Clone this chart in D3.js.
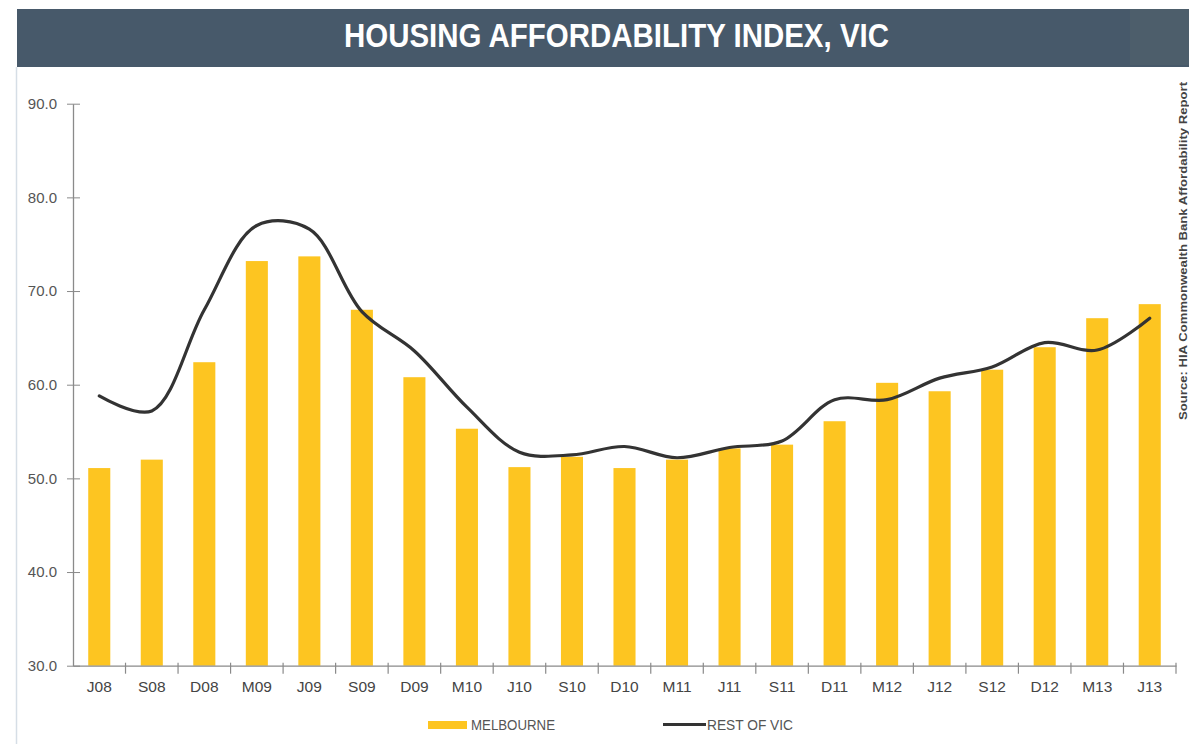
<!DOCTYPE html>
<html>
<head>
<meta charset="utf-8">
<script src="https://cdn.jsdelivr.net/npm/d3@7/dist/d3.min.js"></script>
<style>
  body { margin: 0; background: #fff; }
  svg { display: block; font-family: "Liberation Sans", Arial, sans-serif; }
</style>
</head>
<body>
<svg id="chart"></svg>
<script>
const width = 1189;
const height = 744;

// quarters
const quarters = ['J08', 'S08', 'D08', 'M09', 'J09', 'S09', 'D09', 'M10', 'J10', 'S10', 'D10',
                  'M11', 'J11', 'S11', 'D11', 'M12', 'J12', 'S12', 'D12', 'M13', 'J13'];
const melbourne = [51.1, 52.0, 62.4, 73.2, 73.7, 68.0, 60.8, 55.3, 51.2, 52.3, 51.1,
                   52.0, 53.2, 53.6, 56.1, 60.2, 59.3, 61.6, 64.0, 67.1, 68.6];
const restOfVic = [58.8, 57.2, 68.0, 77.0, 76.6, 67.8, 63.6, 57.6, 52.8, 52.5, 53.4,
                   52.2, 53.3, 54.0, 58.4, 58.4, 60.7, 61.9, 64.5, 63.7, 67.1];
const yTicks = [30, 40, 50, 60, 70, 80, 90];

const title = 'HOUSING AFFORDABILITY INDEX, VIC';
const source = 'Source: HIA Commonwealth Bank Affordability Report';

const svg = d3.select('#chart')
  .attr('width', width)
  .attr('height', height);

// banner + left border
svg.append('rect').attr('x', 17).attr('y', 9).attr('width', 1172).attr('height', 58).attr('fill', '#47596a');
svg.append('rect').attr('x', 1130).attr('y', 9).attr('width', 59).attr('height', 56).attr('fill', '#4d5e6b');
svg.append('line')
  .attr('x1', 16.5).attr('x2', 16.5).attr('y1', 67).attr('y2', height)
  .attr('stroke', '#d6dee6').attr('stroke-width', 1.5);

svg.append('text')
  .attr('x', 344).attr('y', 47)
  .attr('textLength', 545)
  .attr('lengthAdjust', 'spacingAndGlyphs')
  .attr('fill', '#fff')
  .style('font-weight', 'bold')
  .style('font-size', '34px')
  .text(title);

const x = d3.scaleBand().domain(quarters).range([73, 1176]).paddingInner(0.58).paddingOuter(0.29);
const y = d3.scaleLinear().domain([30, 90]).range([665.7, 103.7]);

// y axis
const yAxis = svg.append('g')
  .attr('transform', 'translate(73,0)')
  .call(d3.axisLeft(y).tickValues(yTicks).tickFormat(d3.format('.1f')).tickSizeInner(6).tickSizeOuter(0));
yAxis.select('.domain').attr('stroke', '#8a8a8a').attr('stroke-width', 1.3);
yAxis.selectAll('.tick line').attr('stroke', '#8a8a8a').attr('x1', 7).attr('x2', -6);
yAxis.selectAll('.tick text').attr('x', -16).attr('fill', '#555').style('font-size', '15px');

// bars
svg.append('g')
  .selectAll('rect')
  .data(quarters)
  .enter().append('rect')
  .attr('x', d => x(d))
  .attr('y', (d, i) => y(melbourne[i]))
  .attr('width', x.bandwidth())
  .attr('height', (d, i) => y(30) - y(melbourne[i]))
  .attr('fill', '#fdc521');

// x axis: labels at band centres, ticks at band edges
const xAxis = svg.append('g')
  .attr('transform', `translate(0,${y(30)})`)
  .call(d3.axisBottom(x).tickSize(0).tickPadding(15).tickSizeOuter(0));
xAxis.select('.domain').attr('stroke', '#8a8a8a').attr('stroke-width', 1.3);
xAxis.selectAll('.tick text').attr('fill', '#444').style('font-size', '15.5px');

const edges = d3.range(1, quarters.length + 1).map(k => x.range()[0] + k * x.step());
xAxis.selectAll('.edge')
  .data(edges)
  .enter().append('line')
  .attr('class', 'edge')
  .attr('x1', d => d).attr('x2', d => d)
  .attr('y1', -3).attr('y2', 8)
  .attr('stroke', '#8a8a8a').attr('stroke-width', 1.2);

// smoothed line
const line = d3.line()
  .x((d, i) => x(quarters[i]) + x.bandwidth() / 2)
  .y(d => y(d))
  .curve(d3.curveCatmullRom.alpha(0.5));

svg.append('path')
  .datum(restOfVic)
  .attr('fill', 'none')
  .attr('stroke', '#333')
  .attr('stroke-width', 3.2)
  .attr('stroke-linecap', 'round')
  .attr('d', line);

// legend
const legend = svg.append('g');
legend.append('rect').attr('x', 428).attr('y', 721).attr('width', 39).attr('height', 8).attr('fill', '#fdc521');
legend.append('text').attr('x', 471).attr('y', 730).attr('textLength', 84).attr('lengthAdjust', 'spacingAndGlyphs')
  .attr('fill', '#555').style('font-size', '14px').text('MELBOURNE');
legend.append('line').attr('x1', 663).attr('x2', 706).attr('y1', 724.5).attr('y2', 724.5)
  .attr('stroke', '#333').attr('stroke-width', 3.2);
legend.append('text').attr('x', 707).attr('y', 730).attr('textLength', 86).attr('lengthAdjust', 'spacingAndGlyphs')
  .attr('fill', '#555').style('font-size', '14px').text('REST OF VIC');

// source note, rotated at the right edge
svg.append('text')
  .attr('transform', 'translate(1187,420) rotate(-90)')
  .attr('textLength', 338)
  .attr('lengthAdjust', 'spacingAndGlyphs')
  .attr('fill', '#444')
  .style('font-weight', 'bold')
  .style('font-size', '11px')
  .text(source);
</script>
</body>
</html>
